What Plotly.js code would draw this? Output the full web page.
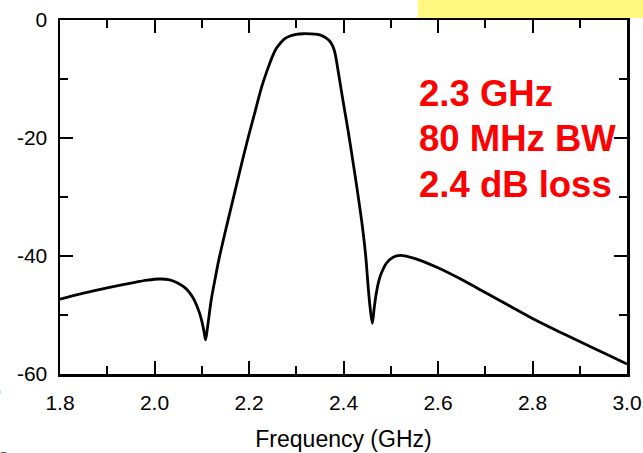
<!DOCTYPE html>
<html>
<head>
<meta charset="utf-8">
<script src="https://cdn.plot.ly/plotly-3.0.1.min.js"></script>
<style>html,body{margin:0;padding:0;background:#fff;}#chart{width:643px;height:453px;}</style>
</head>
<body>
<div id="chart"></div>
<script>
const freqGHz = [1.80, 1.85, 1.90, 1.95, 1.985, 2.01, 2.03, 2.05, 2.065, 2.075, 2.085, 2.095, 2.10, 2.105, 2.108, 2.112, 2.12, 2.128, 2.136, 2.15, 2.165, 2.18, 2.198, 2.212, 2.227, 2.24, 2.251, 2.258, 2.266, 2.275, 2.287, 2.30, 2.315, 2.33, 2.345, 2.354, 2.362, 2.371, 2.377, 2.382, 2.39, 2.40, 2.41, 2.42, 2.43, 2.44, 2.447, 2.452, 2.456, 2.461, 2.465, 2.47, 2.477, 2.484, 2.491, 2.505, 2.52, 2.55, 2.60, 2.65, 2.70, 2.75, 2.80, 2.85, 2.90, 2.95, 3.00];
const s21dB   = [-47.3, -46.3, -45.4, -44.6, -44.1, -43.9, -44.0, -44.6, -45.4, -46.3, -47.6, -49.6, -51.0, -52.9, -54.2, -52.2, -47.5, -44.0, -40.7, -35.8, -30.8, -25.8, -20.0, -15.8, -11.3, -8.2, -5.9, -4.8, -3.95, -3.2, -2.7, -2.42, -2.33, -2.35, -2.45, -2.65, -3.0, -3.6, -4.4, -5.6, -9.3, -14.2, -18.9, -24.0, -29.3, -35.0, -40.0, -45.0, -48.5, -51.4, -48.8, -46.0, -43.6, -42.2, -41.2, -40.2, -39.9, -40.4, -42.0, -44.0, -46.2, -48.4, -50.6, -52.6, -54.5, -56.4, -58.3];
const xTickVals = [1.8, 2.0, 2.2, 2.4, 2.6, 2.8, 3.0];
const xTickText = ["1.8", "2.0", "2.2", "2.4", "2.6", "2.8", "3.0"];
const yTickVals = [-60, -40, -20, 0];
const yTickText = ["-60", "-40", "-20", "0"];
const noteLines = ["2.3 GHz", "80 MHz BW", "2.4 dB loss"];
const xTitle = "Frequency (GHz)";

const fam = "Liberation Sans, Arial, sans-serif";
const tickFont = {family: fam, size: 21, color: "#000"};
const noteY = [0.793, 0.665, 0.536];

const axisCommon = {
  showline: true, linecolor: "#000", linewidth: 2.5,
  mirror: "ticks", ticks: "inside", ticklen: 13, tickwidth: 2, tickcolor: "#000",
  showgrid: false, zeroline: false, tickfont: tickFont
};

const layout = {
  width: 643, height: 453,
  margin: {l: 60, r: 16, t: 20, b: 79, pad: 0},
  paper_bgcolor: "#fff", plot_bgcolor: "#fff",
  showlegend: false,
  xaxis: Object.assign({}, axisCommon, {
    range: [1.8, 3.0], tickmode: "array", tickvals: xTickVals, ticktext: xTickText,
    minor: {dtick: 0.1, ticklen: 8, tickwidth: 2, tickcolor: "#000", ticks: "inside"},
    ticklabelstandoff: 8,
    title: {text: xTitle, font: {family: fam, size: 23, color: "#000"}, standoff: 18}
  }),
  yaxis: Object.assign({}, axisCommon, {
    range: [-60, 0], tickmode: "array", tickvals: yTickVals, ticktext: yTickText,
    minor: {dtick: 10, ticklen: 8, tickwidth: 2, tickcolor: "#000", ticks: "inside"},
    ticklabelstandoff: 6
  }),
  shapes: [{
    type: "rect", xref: "paper", yref: "paper", layer: "below",
    x0: 0.631, x1: 1.05, y0: 1.0056, y1: 1.07,
    fillcolor: "#fff77f", line: {width: 0}
  }],
  annotations: noteLines.map((t, i) => ({
    text: t, xref: "paper", yref: "paper", x: 0.629, y: noteY[i],
    xanchor: "left", yanchor: "middle", showarrow: false,
    font: {family: fam, size: 36.5, color: "#ff0000", weight: "bold"}
  })).concat([
    {text: "S", xref: "paper", yref: "paper", x: -0.1164, y: -0.04, xanchor: "center", yanchor: "middle", showarrow: false,
     font: {family: fam, size: 21, color: "#000"}},
    {text: "-", xref: "paper", yref: "paper", x: -0.1, y: -0.22, xanchor: "center", yanchor: "middle", showarrow: false,
     font: {family: fam, size: 21, color: "#000"}}
  ])
};

const traces = [{
  x: freqGHz, y: s21dB, type: "scatter", mode: "lines",
  line: {color: "#000", width: 2.8, shape: "spline", smoothing: 0.9},
  hoverinfo: "skip"
}];

Plotly.newPlot("chart", traces, layout, {staticPlot: true, displayModeBar: false});
</script>
</body>
</html>
